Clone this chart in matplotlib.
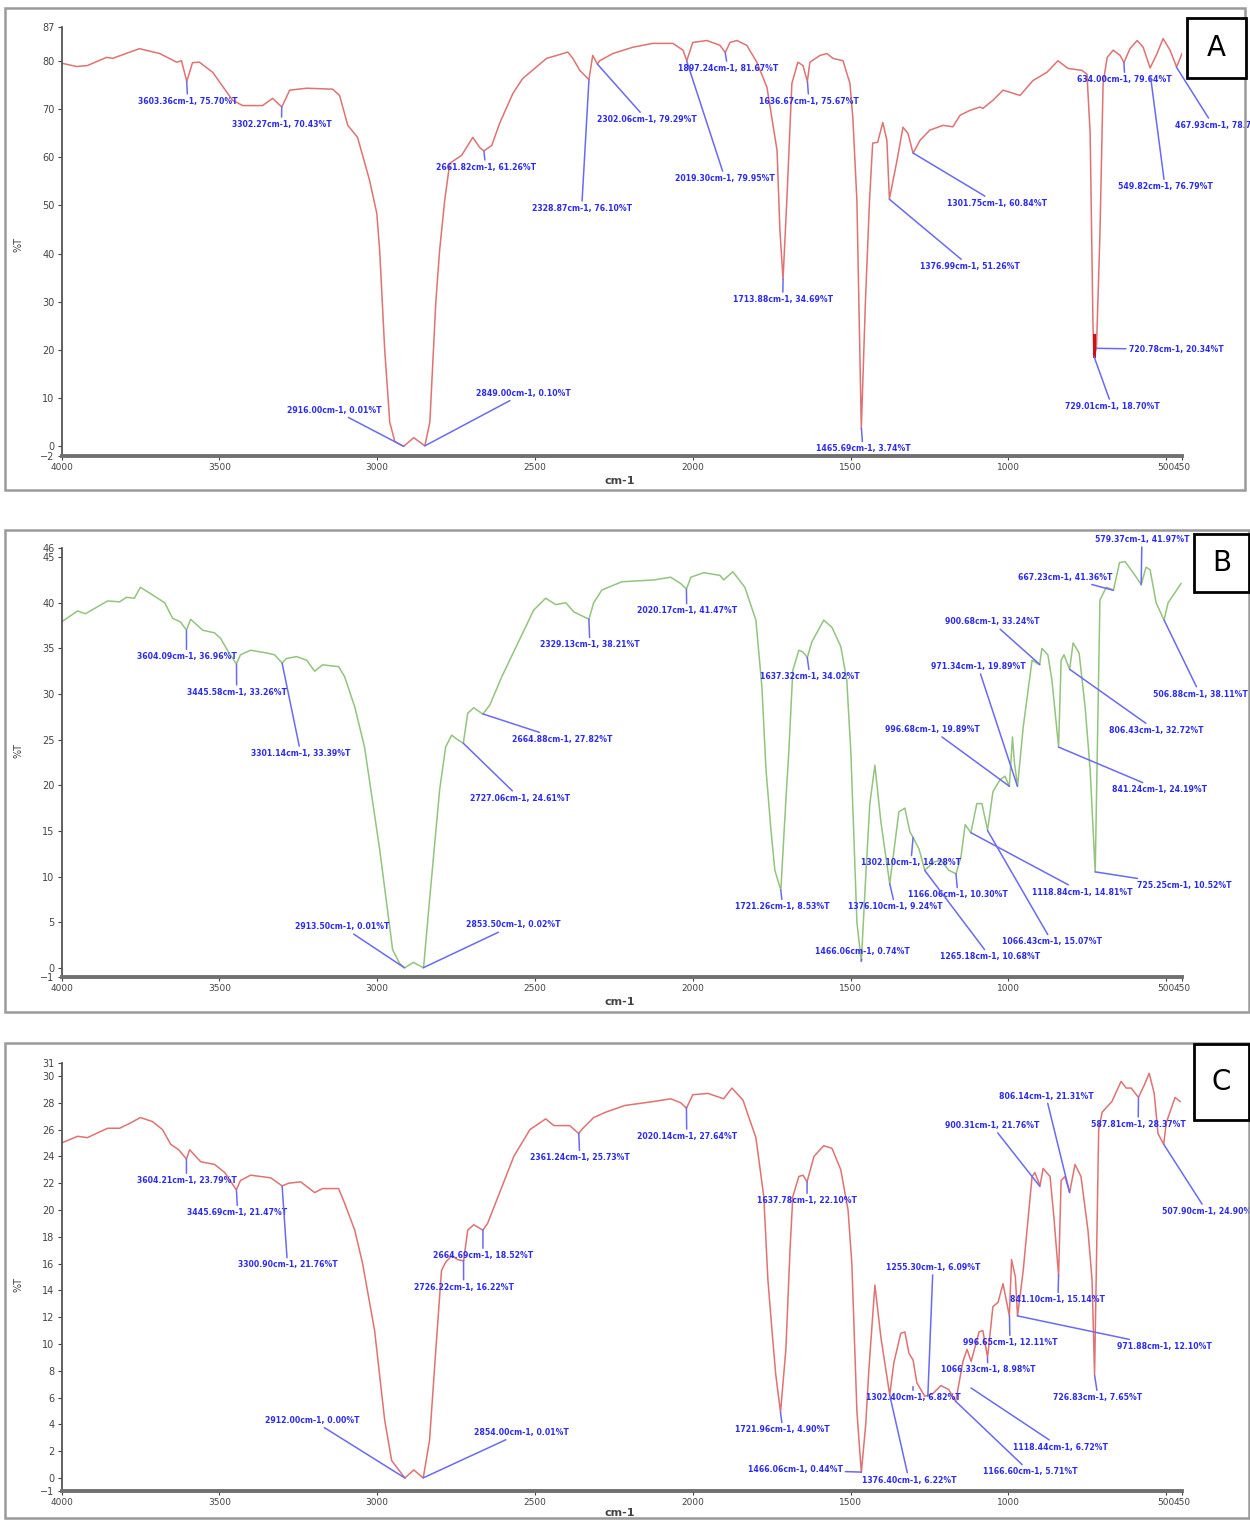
import matplotlib
matplotlib.use("Agg")
import matplotlib.pyplot as plt
from matplotlib.patches import Rectangle

# spectre A : (nombre d'onde cm-1, %T)
spectre_a = [(4000, 79.5), (3952, 78.8), (3918, 79.0), (3857, 80.7), (3838, 80.5), (3753, 82.5), (3689, 81.5),
             (3635, 79.7), (3620, 80.0), (3603, 75.7), (3585, 79.6), (3563, 79.7), (3521, 77.6), (3458, 71.8),
             (3426, 70.7), (3363, 70.7), (3331, 72.2), (3302, 70.4), (3277, 73.9), (3223, 74.3), (3141, 74.1),
             (3119, 72.8), (3093, 66.6), (3062, 64.1), (3024, 55.2), (3001, 48.3), (2992, 40.7), (2976, 20.0),
             (2960, 5.0), (2944, 1.0), (2916, 0.0), (2884, 1.8), (2849, 0.1), (2833, 5.0), (2814, 30.0),
             (2802, 40.7), (2786, 51.0), (2770, 58.7), (2748, 59.7), (2732, 60.4), (2697, 64.1), (2675, 62.0),
             (2662, 61.3), (2637, 62.4), (2612, 67.0), (2570, 73.2), (2539, 76.3), (2463, 80.5), (2431, 81.1),
             (2396, 81.8), (2380, 80.5), (2358, 78.0), (2329, 76.1), (2317, 81.1), (2302, 79.3), (2295, 80.0),
             (2253, 81.5), (2190, 82.8), (2127, 83.6), (2063, 83.6), (2031, 82.2), (2019, 80.0), (2000, 83.8),
             (1955, 84.2), (1914, 83.2), (1897, 81.7), (1882, 83.8), (1860, 84.2), (1829, 83.2), (1797, 79.7),
             (1765, 74.5), (1733, 61.4), (1724, 45.0), (1714, 34.7), (1702, 51.0), (1686, 75.3), (1667, 79.7),
             (1651, 79.0), (1637, 75.7), (1629, 79.7), (1597, 81.1), (1575, 81.5), (1556, 80.5), (1524, 80.0),
             (1502, 75.3), (1493, 68.3), (1480, 51.0), (1466, 3.7), (1453, 30.0), (1440, 51.0), (1430, 62.9),
             (1414, 63.1), (1398, 67.2), (1385, 63.5), (1377, 51.3), (1353, 59.3), (1334, 66.2), (1318, 64.9),
             (1302, 60.8), (1280, 63.5), (1249, 65.6), (1207, 66.6), (1176, 66.3), (1153, 68.7), (1122, 69.7),
             (1090, 70.4), (1081, 70.1), (1049, 71.8), (1017, 73.9), (963, 72.8), (922, 75.9), (878, 77.6),
             (843, 80.0), (811, 78.4), (767, 78.0), (751, 77.2), (741, 64.9), (732, 25.0), (729, 18.7),
             (721, 20.3), (710, 44.0), (700, 75.3), (687, 80.7), (668, 82.2), (646, 81.1), (634, 79.6),
             (615, 82.5), (592, 84.2), (573, 82.8), (551, 78.5), (529, 81.5), (510, 84.6), (488, 82.2),
             (467, 78.7), (450, 81.5)]

# spectre B
spectre_b = [(4000, 37.9), (3949, 39.1), (3924, 38.8), (3854, 40.2), (3816, 40.1), (3794, 40.6), (3769, 40.5),
             (3750, 41.7), (3705, 40.7), (3673, 40.0), (3648, 38.3), (3623, 37.9), (3604, 37.0), (3591, 38.2),
             (3553, 37.0), (3515, 36.7), (3496, 36.1), (3471, 34.6), (3446, 33.3), (3433, 34.3), (3401, 34.8),
             (3350, 34.5), (3325, 34.3), (3301, 33.4), (3287, 33.9), (3255, 34.1), (3223, 33.7), (3198, 32.5),
             (3173, 33.2), (3122, 33.0), (3103, 31.9), (3071, 28.6), (3040, 24.2), (2992, 13.0), (2951, 2.0),
             (2929, 0.5), (2913, 0.0), (2885, 0.6), (2853, 0.0), (2834, 7.4), (2802, 19.5), (2783, 24.2),
             (2764, 25.5), (2745, 25.0), (2727, 24.6), (2713, 27.9), (2694, 28.5), (2665, 27.8), (2643, 28.8),
             (2605, 31.9), (2554, 35.6), (2504, 39.2), (2466, 40.5), (2434, 39.8), (2402, 40.0), (2377, 39.0),
             (2329, 38.2), (2314, 40.0), (2288, 41.4), (2225, 42.3), (2123, 42.5), (2070, 42.8), (2038, 42.1),
             (2020, 41.5), (2006, 42.8), (1965, 43.3), (1914, 43.0), (1902, 42.5), (1873, 43.4), (1835, 41.7),
             (1800, 38.1), (1781, 30.8), (1768, 21.7), (1752, 15.0), (1740, 10.7), (1721, 8.5), (1705, 18.4),
             (1696, 23.5), (1683, 32.6), (1664, 34.8), (1651, 34.6), (1637, 34.0), (1623, 35.7), (1585, 38.1),
             (1559, 37.3), (1531, 35.2), (1512, 31.5), (1499, 23.5), (1480, 5.0), (1466, 0.7), (1452, 10.0),
             (1439, 18.0), (1423, 22.2), (1404, 16.0), (1376, 9.2), (1347, 17.1), (1328, 17.5), (1312, 14.9),
             (1302, 14.3), (1283, 13.0), (1265, 10.7), (1236, 11.6), (1214, 11.8), (1189, 10.7), (1166, 10.3),
             (1150, 12.2), (1137, 15.7), (1119, 14.8), (1100, 18.0), (1084, 18.0), (1066, 15.1), (1049, 19.3),
             (1027, 20.6), (1011, 21.0), (997, 19.9), (987, 25.3), (981, 22.5), (971, 19.9), (953, 26.4),
             (925, 33.7), (901, 33.2), (894, 35.0), (875, 34.3), (862, 31.5), (841, 24.2), (833, 33.7),
             (824, 34.3), (806, 32.7), (795, 35.6), (776, 34.5), (757, 28.6), (741, 21.7), (725, 10.5),
             (710, 40.3), (690, 41.7), (667, 41.4), (648, 44.4), (630, 44.5), (605, 43.3), (579, 42.0),
             (564, 43.9), (551, 43.6), (532, 40.0), (507, 38.1), (494, 40.0), (453, 42.1)]

# spectre C
spectre_c = [(4000, 25.0), (3949, 25.5), (3918, 25.4), (3854, 26.1), (3816, 26.1), (3781, 26.5), (3750, 26.9),
             (3712, 26.6), (3680, 26.0), (3654, 24.9), (3629, 24.5), (3604, 23.8), (3594, 24.5), (3559, 23.6),
             (3515, 23.4), (3483, 22.8), (3446, 21.5), (3433, 22.2), (3401, 22.6), (3337, 22.4), (3301, 21.8),
             (3280, 22.0), (3242, 22.1), (3198, 21.3), (3173, 21.6), (3122, 21.6), (3103, 20.5), (3071, 18.5),
             (3046, 16.0), (3008, 11.0), (2976, 4.3), (2954, 1.3), (2912, 0.0), (2884, 0.6), (2854, 0.0),
             (2834, 2.8), (2814, 9.6), (2796, 15.5), (2783, 16.1), (2764, 16.6), (2745, 16.3), (2726, 16.2),
             (2713, 18.5), (2694, 18.9), (2665, 18.5), (2650, 19.0), (2605, 21.7), (2567, 24.0), (2516, 26.0),
             (2466, 26.8), (2440, 26.3), (2390, 26.3), (2361, 25.7), (2352, 26.0), (2314, 26.9), (2276, 27.3),
             (2215, 27.8), (2123, 28.1), (2070, 28.3), (2038, 28.0), (2020, 27.6), (2000, 28.6), (1952, 28.7),
             (1914, 28.4), (1902, 28.3), (1876, 29.1), (1841, 28.2), (1800, 25.4), (1775, 21.0), (1762, 14.8),
             (1749, 11.0), (1737, 7.7), (1722, 4.9), (1705, 9.6), (1692, 17.0), (1683, 21.0), (1664, 22.5),
             (1651, 22.6), (1638, 22.1), (1616, 24.0), (1585, 24.8), (1559, 24.6), (1531, 23.0), (1508, 20.0),
             (1496, 16.0), (1480, 5.0), (1466, 0.4), (1452, 4.0), (1442, 8.1), (1423, 14.4), (1404, 10.5),
             (1376, 6.2), (1363, 8.6), (1341, 10.8), (1328, 10.9), (1315, 9.3), (1302, 8.8), (1290, 7.1),
             (1265, 6.1), (1239, 6.3), (1214, 6.9), (1189, 6.6), (1167, 5.7), (1144, 8.7), (1131, 9.6),
             (1118, 8.7), (1093, 10.9), (1081, 11.0), (1066, 9.0), (1049, 12.8), (1033, 13.1), (1017, 14.5),
             (997, 12.1), (990, 16.3), (978, 15.0), (971, 12.1), (953, 15.5), (925, 22.5), (916, 22.8),
             (900, 21.8), (890, 23.1), (868, 22.5), (856, 19.5), (841, 15.1), (833, 22.2), (821, 22.5),
             (806, 21.3), (789, 23.4), (770, 22.5), (748, 18.5), (735, 14.8), (727, 7.7), (714, 26.0),
             (703, 27.3), (672, 28.1), (643, 29.6), (627, 29.1), (611, 29.1), (588, 28.4), (570, 29.3),
             (554, 30.2), (538, 28.7), (526, 25.7), (508, 24.9), (500, 26.5), (472, 28.4), (456, 28.1)]

# pics annotés : (cm-1, %T) du pic puis (cm-1, %T) du centre de l'étiquette
pics_a = [((3603.36, 75.70), (3600, 71.6)), ((3302.27, 70.43), (3303, 66.8)),
          ((2661.82, 61.26), (2656, 57.9)), ((2328.87, 76.10), (2352, 49.4)),
          ((2302.06, 79.29), (2146, 67.8)), ((2019.30, 79.95), (1898, 55.6)),
          ((1897.24, 81.67), (1889, 78.4)), ((1636.67, 75.67), (1632, 71.6)),
          ((1713.88, 34.69), (1715, 30.5)), ((1301.75, 60.84), (1036, 50.4)),
          ((1376.99, 51.26), (1122, 37.3)), ((2916.00, 0.01), (3135, 7.5)),
          ((2849.00, 0.10), (2536, 11.0)), ((1465.69, 3.74), (1461, -0.5)),
          ((729.01, 18.70), (672, 8.3)), ((720.78, 20.34), (469, 20.1)),
          ((634.00, 79.64), (631, 76.1)), ((549.82, 76.79), (504, 53.9)),
          ((467.93, 78.70), (472, 66.6))]

pics_b = [((3604.09, 36.96), (3604, 34.1)), ((3445.58, 33.26), (3445, 30.2)),
          ((3301.14, 33.39), (3242, 23.5)), ((2664.88, 27.82), (2415, 25.0)),
          ((2727.06, 24.61), (2548, 18.6)), ((2329.13, 38.21), (2326, 35.4)),
          ((2020.17, 41.47), (2019, 39.1)), ((1637.32, 34.02), (1629, 31.9)),
          ((1721.26, 8.53), (1715, 6.7)), ((1466.06, 0.74), (1461, 1.75)),
          ((1376.10, 9.24), (1359, 6.7)), ((1302.10, 14.28), (1309, 11.5)),
          ((1166.06, 10.30), (1160, 8.0)), ((1265.18, 10.68), (1058, 1.2)),
          ((1066.43, 15.07), (862, 2.85)), ((1118.84, 14.81), (767, 8.3)),
          ((725.25, 10.52), (443, 9.0)), ((841.24, 24.19), (520, 19.5)),
          ((806.43, 32.72), (532, 26.0)), ((996.68, 19.89), (1242, 26.1)),
          ((971.34, 19.89), (1096, 33.0)), ((900.68, 33.24), (1052, 37.9)),
          ((506.88, 38.11), (393, 30.0)), ((667.23, 41.36), (821, 42.8)),
          ((579.37, 41.97), (577, 46.9)), ((2913.50, 0.01), (3109, 4.5)),
          ((2853.50, 0.02), (2567, 4.7))]

pics_c = [((3604.21, 23.79), (3604, 22.2)), ((3445.69, 21.47), (3442, 19.8)),
          ((3300.90, 21.76), (3284, 15.9)), ((2664.69, 18.52), (2665, 16.6)),
          ((2726.22, 16.22), (2726, 14.25)), ((2361.24, 25.73), (2358, 23.9)),
          ((2020.14, 27.64), (2019, 25.5)), ((1637.78, 22.10), (1638, 20.7)),
          ((1721.96, 4.90), (1715, 3.6)), ((1466.06, 0.44), (1676, 0.6)),
          ((1376.40, 6.22), (1315, -0.15)), ((1302.40, 6.82), (1302, 6.0)),
          ((1255.30, 6.09), (1239, 15.7)), ((1166.60, 5.71), (932, 0.45)),
          ((1118.44, 6.72), (836, 2.3)), ((1066.33, 8.98), (1065, 8.06)),
          ((996.65, 12.11), (995, 10.1)), ((971.88, 12.10), (507, 9.8)),
          ((841.10, 15.14), (843, 13.3)), ((726.83, 7.65), (716, 6.0)),
          ((900.31, 21.76), (1052, 26.3)), ((806.14, 21.31), (881, 28.5)),
          ((587.81, 28.37), (589, 26.4)), ((507.90, 24.90), (513, 19.9)),
          ((2912.00, 0.00), (3204, 4.3)), ((2854.00, 0.01), (2542, 3.4))]

# étiquettes coupées par le bord droit de l'image : indice -> nombre de caractères visibles
coupe_a = {18: 16}
coupe_b = {}
coupe_c = {23: 18}

# graduations
xticks = [4000, 3500, 3000, 2500, 2000, 1500, 1000, 500, 450]
yticks_a = [-2, 0, 10, 20, 30, 40, 50, 60, 70, 80, 87]
yticks_b = [-1, 0, 5, 10, 15, 20, 25, 30, 35, 40, 45, 46]
yticks_c = [-1, 0, 2, 4, 6, 8, 10, 12, 14, 16, 18, 20, 22, 24, 26, 28, 30, 31]

W, H = 1250, 1521
bleu = '#2b2bf0'
bleu_trait = '#6a6af2'
rouge = '#e07272'
vert = '#93c47d'


# conversion d'une boîte en pixels vers les coordonnées de la figure
def boite(x0, y0, x1, y1):
    return (x0 / W, 1 - y1 / H), (x1 - x0) / W, (y1 - y0) / H


# création des axes d'un panneau
def panneau(fig, y_haut, y_bas, ymin, ymax, yticks):
    (x, y), w, h = boite(61.5, y_haut, 1182, y_bas)
    ax = fig.add_axes([x, y, w, h])
    ax.set_xlim(4000, 450)
    ax.set_ylim(ymin, ymax)
    ax.set_xticks(xticks)
    ax.set_yticks(yticks)
    ax.set_facecolor('none')
    for s in ['top', 'right']:
        ax.spines[s].set_visible(False)
    ax.spines['left'].set_color('#555555')
    ax.spines['left'].set_linewidth(1.3)
    ax.spines['bottom'].set_color('#707070')
    ax.spines['bottom'].set_linewidth(2.8)
    ax.tick_params(axis='both', labelsize=7, colors='#444444', length=3, width=0.8, pad=2)
    ax.tick_params(axis='x', labelsize=6.5)
    return ax


# trace des annotations des pics
def annoter(ax, pics, coupe):
    for i, ((w, t), (lx, ly)) in enumerate(pics):
        texte = f"{w:.2f}cm-1, {t:.2f}%T"
        ha = 'center'
        if i in coupe:
            texte = texte[:coupe[i]]
            ha = 'left'
        ax.annotate(texte, xy=(w, t), xytext=(lx, ly), ha=ha, va='center',
                    fontsize=5.6, fontweight='bold', color=bleu, annotation_clip=False,
                    arrowprops=dict(arrowstyle='-', color=bleu_trait, lw=1.1,
                                    shrinkA=0, shrinkB=0))


fig = plt.figure(figsize=(W / 100, H / 100), dpi=100)

# cadres gris autour de chaque panneau et cases des lettres
for (x0, y0, x1, y1) in [(5, 8, 1245, 490), (5, 530, 1249, 1012), (5, 1043, 1249, 1518)]:
    (x, y), w, h = boite(x0, y0, x1, y1)
    fig.patches.append(Rectangle((x, y), w, h, transform=fig.transFigure, fill=False,
                                 edgecolor='#9a9a9a', lw=1.8))
for lettre, (x0, y0, x1, y1) in zip(['A', 'B', 'C'], [(1187, 18, 1246, 78), (1194, 534, 1249, 592),
                                                       (1194, 1044, 1249, 1120)]):
    (x, y), w, h = boite(x0, y0, x1, y1)
    fig.patches.append(Rectangle((x, y), w, h, transform=fig.transFigure, facecolor='white',
                                 edgecolor='black', lw=2, zorder=5))
    fig.text(x + w / 2, y + h / 2, lettre, fontsize=20, ha='center', va='center', zorder=6)

# panneaux
ax_a = panneau(fig, 27, 456, -2, 87, yticks_a)
ax_b = panneau(fig, 548, 977, -1, 46, yticks_b)
ax_c = panneau(fig, 1062.6, 1491.4, -1, 31, yticks_c)

for ax, spectre, couleur in [(ax_a, spectre_a, rouge), (ax_b, spectre_b, vert), (ax_c, spectre_c, rouge)]:
    wn, t = zip(*spectre)
    ax.plot(wn, t, color=couleur, lw=1.1)

# petit segment plus foncé sur le pic à 729 cm-1
ax_a.plot([729.01, 729.01], [18.7, 23.0], color='#cc1111', lw=2.2)

annoter(ax_a, pics_a, coupe_a)
annoter(ax_b, pics_b, coupe_b)
annoter(ax_c, pics_c, coupe_c)

# titres des axes
for y_titre, y_cm in [(245, 481), (750, 1002), (1285, 1513)]:
    fig.text(18 / W, 1 - y_titre / H, '%T', rotation=90, fontsize=7, color='#444444',
             ha='center', va='center')
    fig.text(620 / W, 1 - y_cm / H, 'cm-1', fontsize=8, fontweight='bold', color='#444444',
             ha='center', va='center')

fig.savefig('out.png', dpi=100, facecolor='white')
